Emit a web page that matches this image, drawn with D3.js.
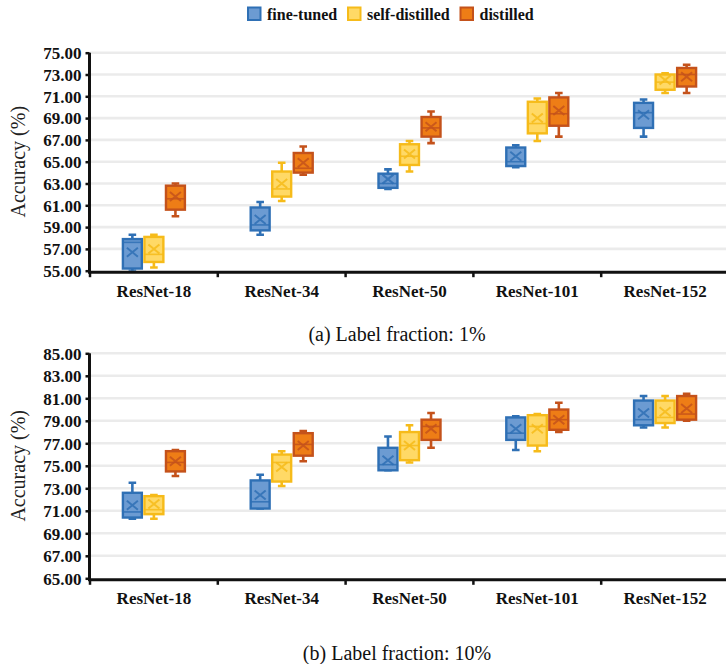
<!DOCTYPE html>
<html><head><meta charset="utf-8">
<script src="https://cdn.jsdelivr.net/npm/d3@7/dist/d3.min.js"></script>
<style>html,body{margin:0;padding:0;background:#fff}svg{display:block}
svg text{font-family:"Liberation Serif","Times New Roman",Tinos,Times,"DejaVu Serif",serif;}
</style>
</head><body>
<svg id="chart" width="726" height="664"></svg>
<script>
// ---------- DATA ----------
const categories = ["ResNet-18", "ResNet-34", "ResNet-50", "ResNet-101", "ResNet-152"];
const seriesNames = ["fine-tuned", "self-distilled", "distilled"];

// each entry: [min, q1, median, q3, max, mean]
// (a) Label fraction: 1%
const frac1_fineTuned = [
  [55.0, 55.2, 57.6, 57.9, 58.3, 56.7],
  [58.3, 58.7, 59.2, 60.8, 61.3, 59.7],
  [62.5, 62.6, 63.0, 63.9, 64.3, 63.4],
  [64.5, 64.6, 65.0, 66.3, 66.5, 65.5],
  [67.3, 68.1, 69.5, 70.4, 70.7, 69.3]
];
const frac1_selfDistilled = [
  [55.3, 55.8, 56.5, 58.1, 58.3, 57.0],
  [61.4, 61.8, 62.5, 64.1, 64.9, 63.0],
  [64.1, 64.7, 65.5, 66.6, 66.9, 65.7],
  [66.9, 67.6, 68.5, 70.5, 70.8, 69.0],
  [71.3, 71.6, 72.3, 73.0, 73.1, 72.5]
];
const frac1_distilled = [
  [60.0, 60.6, 61.6, 62.8, 63.0, 61.8],
  [63.8, 64.0, 64.4, 65.8, 66.4, 64.9],
  [66.7, 67.3, 68.1, 69.1, 69.6, 68.2],
  [67.3, 68.3, 69.4, 70.9, 71.3, 69.7],
  [71.3, 71.9, 73.0, 73.6, 73.9, 72.8]
];
// (b) Label fraction: 10%
const frac10_fineTuned = [
  [70.3, 70.4, 70.9, 72.6, 73.5, 71.5],
  [71.2, 71.2, 71.8, 73.7, 74.2, 72.4],
  [74.6, 74.6, 75.1, 76.6, 77.6, 75.5],
  [76.4, 77.3, 77.9, 79.3, 79.4, 78.3],
  [78.4, 78.6, 79.1, 80.8, 81.2, 79.7]
];
const frac10_selfDistilled = [
  [70.3, 70.7, 71.1, 72.3, 72.4, 71.6],
  [73.2, 73.6, 75.3, 76.0, 76.3, 74.9],
  [75.3, 75.5, 76.8, 78.0, 78.6, 76.8],
  [76.3, 76.8, 78.5, 79.5, 79.6, 78.3],
  [78.4, 78.8, 79.3, 80.8, 81.2, 79.8]
];
const frac10_distilled = [
  [74.1, 74.5, 75.3, 76.3, 76.4, 75.4],
  [75.4, 75.9, 76.9, 77.9, 78.1, 76.8],
  [76.6, 77.3, 78.5, 79.1, 79.7, 78.3],
  [78.0, 78.2, 79.1, 80.0, 80.6, 79.1],
  [79.0, 79.1, 79.6, 81.2, 81.4, 80.1]
];
const frac1_ticks = [55, 57, 59, 61, 63, 65, 67, 69, 71, 73, 75];
const frac10_ticks = [65, 67, 69, 71, 73, 75, 77, 79, 81, 83, 85];
const captions = ["(a) Label fraction: 1%", "(b) Label fraction: 10%"];
const yTitle = "Accuracy (%)";

// ---------- STYLE ----------
const fills = ["#6c9bd2", "#ffd966", "#ee7d16"];
const strokes = ["#2f70b5", "#f6bb1a", "#c4521b"];

const svg = d3.select("#chart");

const x = d3.scaleBand().domain(categories).range([90, 729]).paddingInner(0).paddingOuter(0);
const xs = d3.scaleBand().domain(seriesNames).range([-32.3, 32.3]);

function panel(cfg) {
  const g = svg.append("g");
  const y = d3.scaleLinear().domain([cfg.ticks[0], cfg.ticks[cfg.ticks.length - 1]]).range([cfg.y0, cfg.y1]);
  const clipId = "clip" + cfg.idx;
  g.append("clipPath").attr("id", clipId).append("rect")
    .attr("x", 88).attr("y", cfg.y1 - 5).attr("width", 640).attr("height", cfg.y0 - cfg.y1 + 5);

  // gridlines
  g.append("g").selectAll("line").data(cfg.ticks.slice(1)).join("line")
    .attr("x1", 90).attr("x2", 726)
    .attr("y1", d => y(d)).attr("y2", d => y(d))
    .attr("stroke", "#ebebeb").attr("stroke-width", 2.6);

  // y axis
  const ya = d3.axisLeft(y).tickValues(cfg.ticks).tickFormat(d3.format(".2f")).tickSize(4).tickPadding(4);
  const yg = g.append("g").attr("transform", "translate(89.5,0)").call(ya);
  yg.attr("font-family", null);
  yg.select(".domain").attr("stroke", "#111").attr("stroke-width", 3).attr("d", `M0,${y.range()[1]}V${y.range()[0]+1.5}`);
  yg.selectAll(".tick line").attr("stroke", "#111").attr("stroke-width", 2.5);
  yg.selectAll(".tick text").attr("font-weight", "bold")
    .attr("font-size", 17).attr("fill", "#111").attr("dy", "0.34em");

  // boxes
  const data = cfg.series;
  const boxes = g.append("g").attr("clip-path", `url(#${clipId})`);
  data.forEach((arr, si) => {
    const name = seriesNames[si];
    const bw = xs.bandwidth();
    arr.forEach((v, ci) => {
      const cx = x(categories[ci]) + x.bandwidth() / 2 + xs(name) + bw / 2;
      const [mn, q1, md, q3, mx, mean] = v;
      const bg = boxes.append("g");
      bg.append("line").attr("x1", cx).attr("x2", cx).attr("y1", y(mx)).attr("y2", y(q3))
        .attr("stroke", strokes[si]).attr("stroke-width", 2.6);
      bg.append("line").attr("x1", cx).attr("x2", cx).attr("y1", y(q1)).attr("y2", y(mn))
        .attr("stroke", strokes[si]).attr("stroke-width", 2.6);
      [mx, mn].forEach(c => bg.append("line").attr("x1", cx - 3.8).attr("x2", cx + 3.8)
        .attr("y1", y(c)).attr("y2", y(c)).attr("stroke", strokes[si]).attr("stroke-width", 2.6));
      bg.append("rect").attr("x", cx - bw / 2 + 1.3).attr("width", bw - 2.6)
        .attr("y", y(q3)).attr("height", Math.max(0.5, y(q1) - y(q3)))
        .attr("fill", fills[si]).attr("stroke", strokes[si]).attr("stroke-width", 2.4);
      bg.append("line").attr("x1", cx - bw / 2 + 1.3).attr("x2", cx + bw / 2 - 1.3)
        .attr("y1", y(md)).attr("y2", y(md)).attr("stroke", strokes[si]).attr("stroke-width", 1.6)
        .attr("opacity", 0.85);
      const ym = y(mean), s = 5.5, t = 4.5;
      bg.append("path").attr("d", `M${cx - s},${ym - t}L${cx + s},${ym + t}M${cx - s},${ym + t}L${cx + s},${ym - t}`)
        .attr("stroke", strokes[si]).attr("stroke-width", 2).attr("fill", "none").attr("opacity", 0.85);
    });
  });

  // x axis
  const xaY = cfg.y0 + 1.5;
  const xa = d3.axisBottom(x).tickSize(0).tickPadding(0);
  const xg = g.append("g").attr("transform", `translate(0,${xaY})`).call(xa);
  xg.attr("font-family", null);
  xg.select(".domain").remove();
  xg.append("line").attr("x1", 88).attr("x2", 726).attr("y1", 0).attr("y2", 0)
    .attr("stroke", "#111").attr("stroke-width", 3);
  xg.selectAll(".tick text").attr("font-weight", "bold")
    .attr("font-size", 17).attr("fill", "#111").attr("dy", "1.45em");
  g.append("g").selectAll("line").data(categories).join("line")
    .attr("x1", d => x(d)).attr("x2", d => x(d))
    .attr("y1", xaY).attr("y2", xaY + 5).attr("stroke", "#111").attr("stroke-width", 2.5);

  // y title
  g.append("text").attr("transform", `translate(${cfg.titleX},${(cfg.y0 + cfg.y1) / 2}) rotate(-90)`)
    .attr("text-anchor", "middle").attr("dy", "0.35em")
    .attr("font-size", 20).attr("fill", "#222").text(yTitle);

  // caption
  g.append("text").attr("x", 397).attr("y", cfg.capY).attr("text-anchor", "middle").attr("dy", "0.35em")
    .attr("font-size", 20).attr("fill", "#111").text(cfg.caption);
}

panel({ idx: 0, ticks: frac1_ticks, y0: 270.7, y1: 52.7, series: [frac1_fineTuned, frac1_selfDistilled, frac1_distilled],
        caption: captions[0], capY: 334, titleX: 18 });
panel({ idx: 1, ticks: frac10_ticks, y0: 578.3, y1: 353.3, series: [frac10_fineTuned, frac10_selfDistilled, frac10_distilled],
        caption: captions[1], capY: 653, titleX: 18 });

// legend
const legendX = [247, 347, 459.5];
const lg = svg.append("g");
seriesNames.forEach((n, i) => {
  lg.append("rect").attr("x", legendX[i] + 1).attr("y", 7.5).attr("width", 12.5).attr("height", 12.5)
    .attr("fill", fills[i]).attr("stroke", strokes[i]).attr("stroke-width", 2);
  lg.append("text").attr("x", legendX[i] + 20).attr("y", 14).attr("dy", "0.35em")
    .attr("font-weight", "bold").attr("font-size", 16).attr("fill", "#111").text(n);
});
</script>
</body></html>
